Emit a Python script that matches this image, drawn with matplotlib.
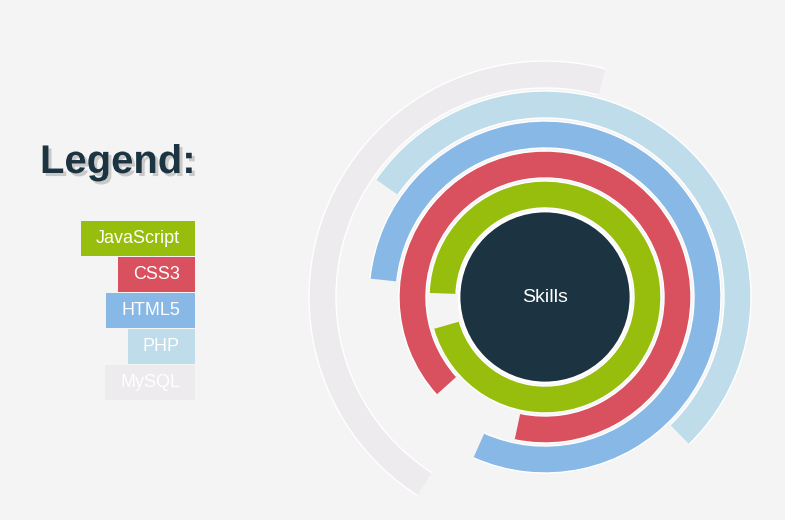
import matplotlib.pyplot as plt
import matplotlib.patheffects as pe
from matplotlib.patches import Wedge, Circle, Rectangle, Arc

# skills and their levels (percent of a full ring)
skills = ["JavaScript", "CSS3", "HTML5", "PHP", "MySQL"]
levels = [95, 90, 80, 53, 45]

# styling
colors = ["#97be0d", "#d9515f", "#88b8e6", "#bedce9", "#edebee"]
ring_start = [196, 258, 246, -45.6, 75.2]   # degrees, ccw from east
bg = "#f4f4f4"
dark = "#1c3341"

W, H = 785, 520
fig = plt.figure(figsize=(W / 100, H / 100), dpi=100, facecolor=bg)
ax = fig.add_axes([0, 0, 1, 1])
ax.set_xlim(0, W)
ax.set_ylim(0, H)
ax.set_aspect("equal")
ax.axis("off")
plt.rcParams["font.family"] = ["Liberation Sans", "DejaVu Sans"]

# rings, white hairline only along the curved sides
cx, cy = 545, H - 297
r0, band, step = 89, 27, 30
for i, (lvl, col, start) in enumerate(zip(levels, colors, ring_start)):
    r_out = r0 + step * i + band
    end = start + 360 * lvl / 100
    ax.add_patch(Wedge((cx, cy), r_out, start, end, width=band,
                       facecolor=col, edgecolor="none"))
    for r in (r_out, r_out - band):
        ax.add_patch(Arc((cx, cy), 2 * r, 2 * r, theta1=start, theta2=end,
                         color="white", linewidth=1.0))

# centre
ax.add_patch(Circle((cx, cy), 86, facecolor=dark, edgecolor="white", linewidth=2))
ax.text(cx, cy, "Skills", color="white", fontsize=14, ha="center", va="center")

# legend title with drop shadow
ax.text(40, H - 173, "Legend:", fontsize=28.8, fontweight="bold", color=dark, va="baseline",
        path_effects=[pe.withSimplePatchShadow(offset=(2.2, -2.2), shadow_rgbFace="#c9c9c9", alpha=1)])

# legend boxes sized to their labels
fig.canvas.draw()
renderer = fig.canvas.get_renderer()
right, pad, row_h, row_step = 195, 15, 35, 36
for i, (name, col) in enumerate(zip(skills, colors)):
    top = H - 221 - row_step * i
    t = ax.text(right - pad, top - row_h / 2, name, color="white", fontsize=13,
                ha="right", va="center", zorder=3)
    bb = t.get_window_extent(renderer)
    ax.add_patch(Rectangle((bb.x0 - pad, top - row_h), right - bb.x0 + pad, row_h,
                           facecolor=col, edgecolor="none", zorder=2))

fig.savefig("out.png", dpi=100, facecolor=bg)
